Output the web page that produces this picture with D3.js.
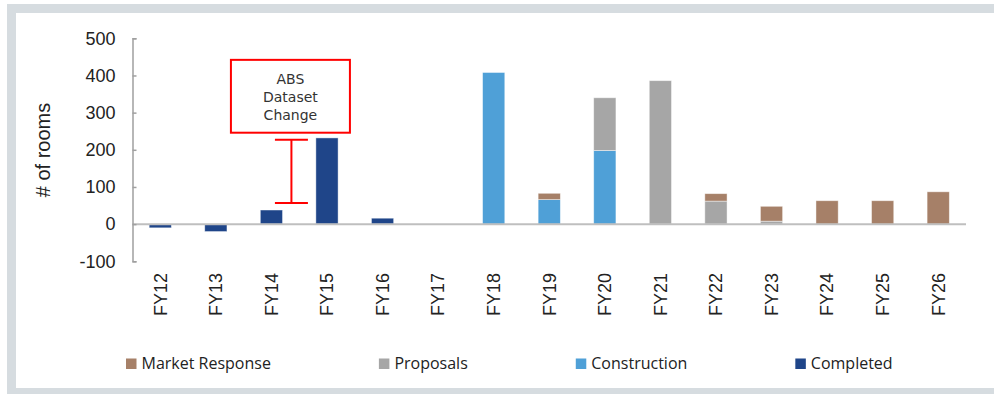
<!DOCTYPE html>
<html>
<head>
<meta charset="utf-8">
<script src="https://cdn.jsdelivr.net/npm/d3@7"></script>
<style>
  body { margin: 0; background: #fff; }
  svg { display: block; }
</style>
</head>
<body>
<div id="chart"></div>
<script>
const years = ['FY12','FY13','FY14','FY15','FY16','FY17','FY18','FY19','FY20','FY21','FY22','FY23','FY24','FY25','FY26'];
const completed    = [-10, -20, 38, 232, 16, 0, 0, 0, 0, 0, 0, 0, 0, 0, 0];
const construction = [0, 0, 0, 0, 0, 0, 408, 66, 198, 0, 0, 0, 0, 0, 0];
const proposals    = [0, 0, 0, 0, 0, 0, 0, 0, 142, 386, 62, 8, 0, 0, 0];
const market       = [0, 0, 0, 0, 0, 0, 0, 17, 0, 0, 20, 40, 63, 63, 87];

const yTicks = [-100, 0, 100, 200, 300, 400, 500];

// stack order bottom -> top
const seriesKeys   = ['completed','construction','proposals','market'];
const seriesColors = {completed:'#1F4589', construction:'#4FA0D7', proposals:'#A6A6A6', market:'#A68068'};
// legend order
const legendKeys   = ['market','proposals','construction','completed'];
const legendNames  = {market:'Market Response', proposals:'Proposals', construction:'Construction', completed:'Completed'};

// annotation
const annoLines = ['ABS','Dataset','Change'];
const annoRange = [57, 227];

const W = 994, H = 394;
const svg = d3.select('#chart').append('svg').attr('width', W).attr('height', H);

// frame
svg.append('rect').attr('x',7).attr('y',4).attr('width',W).attr('height',H).attr('fill','#D6DCE0');
svg.append('rect').attr('x',16).attr('y',13).attr('width',W).attr('height',375).attr('fill','#fff');

const x = d3.scaleBand().domain(years).range([132.5, 966]).paddingInner(0.6).paddingOuter(0.3);
const y = d3.scaleLinear().domain([-100, 500]).range([261.3, 38.3]);

const rows = years.map((yr, i) => ({
  year: yr,
  completed: completed[i],
  construction: construction[i],
  proposals: proposals[i],
  market: market[i]
}));

const stacked = d3.stack().keys(seriesKeys).offset(d3.stackOffsetDiverging)(rows);

svg.append('g').selectAll('g')
  .data(stacked)
  .join('g')
    .attr('fill', d => seriesColors[d.key])
  .selectAll('rect')
  .data(d => d.filter(s => s[1] !== s[0]))
  .join('rect')
    .attr('x', d => x(d.data.year))
    .attr('width', x.bandwidth())
    .attr('y', d => y(Math.max(d[0], d[1])))
    .attr('height', d => Math.abs(y(d[0]) - y(d[1])))
    .attr('stroke', 'rgba(255,255,255,0.55)')
    .attr('stroke-width', 0.8);

// zero line
svg.append('line')
  .attr('x1', 132.5).attr('x2', 966)
  .attr('y1', y(0)).attr('y2', y(0))
  .attr('stroke', '#BFBFBF').attr('stroke-width', 2);

// y axis
const yAxis = svg.append('g')
  .attr('transform', 'translate(132.5,0)')
  .call(d3.axisLeft(y).tickValues(yTicks).tickFormat(d => String(d))
    .tickSizeInner(-4).tickSizeOuter(-4).tickPadding(17));
yAxis.select('.domain').attr('stroke', '#A0A0A0').attr('stroke-width', 1.5);
yAxis.selectAll('.tick line').attr('stroke', '#A0A0A0').attr('stroke-width', 1.5);
yAxis.selectAll('.tick text')
  .attr('font-family', '"Liberation Sans", Arial, sans-serif')
  .attr('font-size', 18).attr('fill', '#222');

svg.append('text')
  .attr('transform', 'translate(50,150) rotate(-90)')
  .attr('text-anchor', 'middle')
  .attr('font-family', '"Liberation Sans", Arial, sans-serif')
  .attr('font-size', 20).attr('fill', '#222')
  .text('# of rooms');

// x labels
svg.append('g').selectAll('text')
  .data(years)
  .join('text')
    .attr('transform', d => `translate(${x(d) + x.bandwidth()/2},273) rotate(-90)`)
    .attr('text-anchor', 'end')
    .attr('dy', '0.35em')
    .attr('font-family', '"Liberation Sans", Arial, sans-serif')
    .attr('font-size', 18).attr('fill', '#222')
    .text(d => d);

// annotation: error bar + box
const ax = x('FY14') + x.bandwidth()/2 + x.step()*0.36;
const anno = svg.append('g').attr('stroke', '#FF0000').attr('stroke-width', 2).attr('fill', 'none');
anno.append('line').attr('x1', ax).attr('x2', ax).attr('y1', y(annoRange[0])).attr('y2', y(annoRange[1]));
anno.append('line').attr('x1', ax - 16.5).attr('x2', ax + 16.5).attr('y1', y(annoRange[0])).attr('y2', y(annoRange[0]));
anno.append('line').attr('x1', ax - 16.5).attr('x2', ax + 16.5).attr('y1', y(annoRange[1])).attr('y2', y(annoRange[1]));
anno.append('rect').attr('x', ax - 60.5).attr('y', y(442)).attr('width', 119).attr('height', y(246) - y(442)).attr('fill', '#fff');

svg.append('g').selectAll('text')
  .data(annoLines)
  .join('text')
    .attr('x', ax - 1)
    .attr('y', (d, i) => 79 + i * 18)
    .attr('dy', '0.35em')
    .attr('text-anchor', 'middle')
    .attr('font-family', '"DejaVu Sans", sans-serif')
    .attr('font-size', 14).attr('fill', '#333')
    .text(d => d);

// legend
const legend = svg.append('g');
let lx = 126;
legendKeys.forEach(k => {
  legend.append('rect').attr('x', lx).attr('y', 358.5).attr('width', 10.5).attr('height', 10.5).attr('fill', seriesColors[k]);
  const t = legend.append('text')
    .attr('x', lx + 15.5).attr('y', 363.5).attr('dy', '0.35em')
    .attr('font-family', '"Open Sans", sans-serif')
    .attr('font-size', 16).attr('fill', '#222')
    .text(legendNames[k]);
  lx += 15.5 + t.node().getComputedTextLength() + 108;
});
</script>
</body>
</html>
